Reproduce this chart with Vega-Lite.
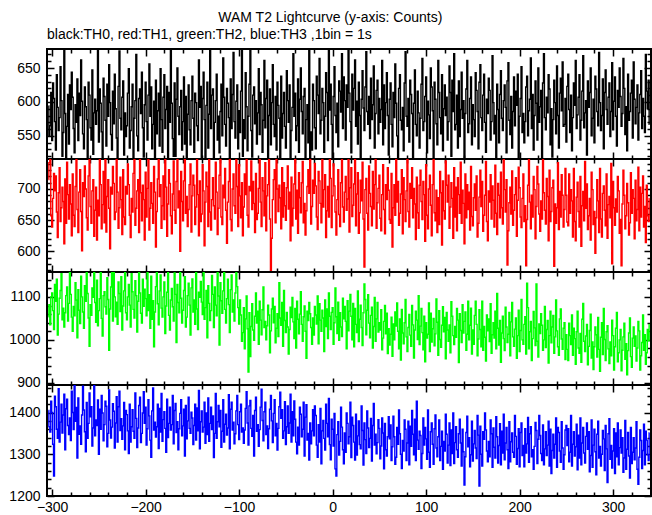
{
"$schema": "https://vega.github.io/schema/vega-lite/v6.json",
"background": "white",
"padding": {"left": 7, "top": 11, "right": 3, "bottom": 4},
"title": {"text": "WAM T2 Lightcurve (y-axis: Counts)", "anchor": "middle", "font": "Liberation Sans", "fontSize": 14, "fontWeight": "normal", "color": "black", "offset": 2},
"datasets": {"lc": [
{"t":-304,"a":594,"b":715,"c":1054,"d":1405},{"t":-303,"a":550,"b":742,"c":1082,"d":1366},{"t":-302,"a":565,"b":755,"c":1035,"d":1353},{"t":-301,"a":614,"b":657,"c":1100,"d":1427},{"t":-300,"a":543,"b":639,"c":1109,"d":1400},{"t":-299,"a":628,"b":685,"c":1068,"d":1324},{"t":-298,"a":605,"b":725,"c":1024,"d":1248},{"t":-297,"a":571,"b":697,"c":1129,"d":1439},{"t":-296,"a":529,"b":721,"c":1090,"d":1414},{"t":-295,"a":640,"b":663,"c":1141,"d":1360},
{"t":-294,"a":592,"b":622,"c":1011,"d":1338},{"t":-293,"a":558,"b":694,"c":1060,"d":1457},{"t":-292,"a":577,"b":734,"c":1097,"d":1329},{"t":-291,"a":652,"b":648,"c":1115,"d":1377},{"t":-290,"a":602,"b":670,"c":1154,"d":1420},{"t":-289,"a":520,"b":703,"c":1047,"d":1351},{"t":-288,"a":555,"b":680,"c":1074,"d":1394},{"t":-287,"a":676,"b":612,"c":1030,"d":1444},{"t":-286,"a":583,"b":716,"c":1063,"d":1311},{"t":-285,"a":502,"b":645,"c":1103,"d":1409},
{"t":-284,"a":564,"b":743,"c":1123,"d":1432},{"t":-283,"a":611,"b":691,"c":1044,"d":1369},{"t":-282,"a":538,"b":652,"c":1085,"d":1347},{"t":-281,"a":625,"b":707,"c":1171,"d":1387},{"t":-280,"a":589,"b":676,"c":1106,"d":1333},{"t":-279,"a":644,"b":625,"c":1053,"d":1451},{"t":-278,"a":607,"b":724,"c":1020,"d":1400},{"t":-277,"a":561,"b":658,"c":1078,"d":1359},{"t":-276,"a":525,"b":640,"c":1056,"d":1471},{"t":-275,"a":596,"b":704,"c":1133,"d":1379},
{"t":-274,"a":570,"b":758,"c":1093,"d":1412},{"t":-273,"a":634,"b":667,"c":1005,"d":1291},{"t":-272,"a":543,"b":630,"c":1117,"d":1435},{"t":-271,"a":613,"b":695,"c":1069,"d":1348},{"t":-270,"a":580,"b":731,"c":1038,"d":1368},{"t":-269,"a":662,"b":664,"c":1148,"d":1324},{"t":-268,"a":601,"b":601,"c":1100,"d":1394},{"t":-267,"a":553,"b":710,"c":1065,"d":1463},{"t":-266,"a":531,"b":688,"c":1027,"d":1406},{"t":-265,"a":622,"b":737,"c":1126,"d":1354},
{"t":-264,"a":593,"b":700,"c":1090,"d":1306},{"t":-263,"a":574,"b":654,"c":1163,"d":1424},{"t":-262,"a":507,"b":634,"c":1108,"d":1338},{"t":-261,"a":629,"b":721,"c":1051,"d":1374},{"t":-260,"a":610,"b":770,"c":985,"d":1447},{"t":-259,"a":562,"b":672,"c":1082,"d":1390},{"t":-258,"a":544,"b":645,"c":1057,"d":1414},{"t":-257,"a":647,"b":697,"c":1121,"d":1320},{"t":-256,"a":523,"b":715,"c":1099,"d":1363},{"t":-255,"a":584,"b":624,"c":1166,"d":1478},
{"t":-254,"a":604,"b":666,"c":1087,"d":1344},{"t":-253,"a":567,"b":703,"c":1041,"d":1382},{"t":-252,"a":587,"b":618,"c":1139,"d":1369},{"t":-251,"a":695,"b":682,"c":1033,"d":1430},{"t":-250,"a":541,"b":657,"c":1068,"d":1300},{"t":-249,"a":619,"b":748,"c":1096,"d":1408},{"t":-248,"a":598,"b":707,"c":1180,"d":1360},{"t":-247,"a":556,"b":636,"c":1050,"d":1441},{"t":-246,"a":516,"b":675,"c":1009,"d":1399},{"t":-245,"a":635,"b":728,"c":1103,"d":1332},
{"t":-244,"a":608,"b":646,"c":1112,"d":1371},{"t":-243,"a":573,"b":761,"c":1077,"d":1427},{"t":-242,"a":535,"b":631,"c":1060,"d":1415},{"t":-241,"a":626,"b":688,"c":1145,"d":1318},{"t":-240,"a":579,"b":715,"c":1094,"d":1350},{"t":-239,"a":655,"b":669,"c":976,"d":1454},{"t":-238,"a":599,"b":604,"c":1072,"d":1382},{"t":-237,"a":552,"b":703,"c":1123,"d":1339},{"t":-236,"a":529,"b":692,"c":1157,"d":1365},{"t":-235,"a":616,"b":736,"c":1044,"d":1421},
{"t":-234,"a":568,"b":709,"c":1174,"d":1403},{"t":-233,"a":641,"b":651,"c":1100,"d":1315},{"t":-232,"a":590,"b":663,"c":1054,"d":1375},{"t":-231,"a":547,"b":772,"c":1088,"d":1438},{"t":-230,"a":511,"b":695,"c":1036,"d":1329},{"t":-229,"a":623,"b":637,"c":1135,"d":1414},{"t":-228,"a":675,"b":670,"c":1108,"d":1451},{"t":-227,"a":576,"b":719,"c":1066,"d":1357},{"t":-226,"a":559,"b":683,"c":1147,"d":1385},{"t":-225,"a":607,"b":627,"c":1023,"d":1336},
{"t":-224,"a":631,"b":731,"c":1079,"d":1368},{"t":-223,"a":522,"b":655,"c":1114,"d":1424},{"t":-222,"a":584,"b":643,"c":1186,"d":1311},{"t":-221,"a":549,"b":704,"c":1063,"d":1405},{"t":-220,"a":565,"b":692,"c":1047,"d":1395},{"t":-219,"a":613,"b":740,"c":1100,"d":1356},{"t":-218,"a":649,"b":707,"c":1129,"d":1302},{"t":-217,"a":532,"b":658,"c":1081,"d":1420},{"t":-216,"a":558,"b":622,"c":1030,"d":1329},{"t":-215,"a":593,"b":685,"c":1154,"d":1366},
{"t":-214,"a":626,"b":663,"c":1112,"d":1407},{"t":-213,"a":511,"b":725,"c":1071,"d":1355},{"t":-212,"a":576,"b":763,"c":1051,"d":1338},{"t":-211,"a":602,"b":642,"c":1138,"d":1447},{"t":-210,"a":670,"b":669,"c":1103,"d":1386},{"t":-209,"a":550,"b":697,"c":1018,"d":1316},{"t":-208,"a":528,"b":715,"c":1090,"d":1363},{"t":-207,"a":605,"b":630,"c":1162,"d":1417},{"t":-206,"a":619,"b":749,"c":1109,"d":1437},{"t":-205,"a":583,"b":694,"c":1062,"d":1328},
{"t":-204,"a":644,"b":649,"c":1039,"d":1350},{"t":-203,"a":562,"b":706,"c":1141,"d":1399},{"t":-202,"a":519,"b":683,"c":1078,"d":1450},{"t":-201,"a":596,"b":618,"c":1118,"d":1374},{"t":-200,"a":629,"b":727,"c":1096,"d":1413},{"t":-199,"a":571,"b":655,"c":1056,"d":1322},{"t":-198,"a":544,"b":701,"c":1181,"d":1361},{"t":-197,"a":610,"b":779,"c":1068,"d":1431},{"t":-196,"a":656,"b":634,"c":1105,"d":1392},{"t":-195,"a":579,"b":669,"c":1027,"d":1334},
{"t":-194,"a":622,"b":710,"c":1148,"d":1293},{"t":-193,"a":531,"b":677,"c":1048,"d":1404},{"t":-192,"a":567,"b":645,"c":1091,"d":1459},{"t":-191,"a":601,"b":736,"c":984,"d":1358},{"t":-190,"a":499,"b":695,"c":1065,"d":1377},{"t":-189,"a":632,"b":607,"c":1124,"d":1341},{"t":-188,"a":553,"b":664,"c":1168,"d":1366},{"t":-187,"a":587,"b":716,"c":1084,"d":1420},{"t":-186,"a":613,"b":773,"c":1035,"d":1314},{"t":-185,"a":535,"b":688,"c":1114,"d":1410},
{"t":-184,"a":649,"b":707,"c":1151,"d":1353},{"t":-183,"a":574,"b":637,"c":1074,"d":1446},{"t":-182,"a":526,"b":673,"c":1053,"d":1331},{"t":-181,"a":607,"b":721,"c":1100,"d":1383},{"t":-180,"a":640,"b":651,"c":1135,"d":1402},{"t":-179,"a":561,"b":751,"c":1015,"d":1362},{"t":-178,"a":589,"b":703,"c":1079,"d":1305},{"t":-177,"a":623,"b":624,"c":1111,"d":1432},{"t":-176,"a":513,"b":676,"c":1189,"d":1340},{"t":-175,"a":614,"b":731,"c":1057,"d":1374},
{"t":-174,"a":570,"b":709,"c":1023,"d":1413},{"t":-173,"a":682,"b":657,"c":1093,"d":1358},{"t":-172,"a":598,"b":628,"c":1120,"d":1371},{"t":-171,"a":546,"b":692,"c":1077,"d":1441},{"t":-170,"a":520,"b":745,"c":1044,"d":1325},{"t":-169,"a":628,"b":666,"c":1156,"d":1405},{"t":-168,"a":520,"b":645,"c":1106,"d":1422},{"t":-167,"a":604,"b":712,"c":994,"d":1352},{"t":-166,"a":650,"b":764,"c":1129,"d":1378},{"t":-165,"a":579,"b":670,"c":1087,"d":1311},
{"t":-164,"a":552,"b":697,"c":1063,"d":1361},{"t":-163,"a":593,"b":600,"c":1169,"d":1398},{"t":-162,"a":617,"b":728,"c":1097,"d":1431},{"t":-161,"a":529,"b":680,"c":1039,"d":1344},{"t":-160,"a":571,"b":649,"c":1069,"d":1368},{"t":-159,"a":637,"b":713,"c":1115,"d":1408},{"t":-158,"a":538,"b":769,"c":1147,"d":1296},{"t":-157,"a":608,"b":661,"c":1030,"d":1417},{"t":-156,"a":504,"b":688,"c":1053,"d":1337},{"t":-155,"a":582,"b":640,"c":1103,"d":1380},
{"t":-154,"a":625,"b":667,"c":1132,"d":1437},{"t":-153,"a":559,"b":707,"c":1081,"d":1362},{"t":-152,"a":537,"b":740,"c":1011,"d":1350},{"t":-151,"a":602,"b":631,"c":1121,"d":1401},{"t":-150,"a":638,"b":689,"c":1142,"d":1387},{"t":-149,"a":576,"b":722,"c":1065,"d":1323},{"t":-148,"a":526,"b":706,"c":1093,"d":1369},{"t":-147,"a":613,"b":643,"c":1036,"d":1420},{"t":-146,"a":599,"b":671,"c":1163,"d":1334},{"t":-145,"a":565,"b":757,"c":1072,"d":1411},
{"t":-144,"a":543,"b":691,"c":1024,"d":1356},{"t":-143,"a":662,"b":625,"c":1111,"d":1453},{"t":-142,"a":592,"b":713,"c":1099,"d":1313},{"t":-141,"a":623,"b":648,"c":1136,"d":1378},{"t":-140,"a":510,"b":660,"c":1088,"d":1404},{"t":-139,"a":605,"b":739,"c":1059,"d":1353},{"t":-138,"a":644,"b":697,"c":1177,"d":1365},{"t":-137,"a":574,"b":609,"c":1048,"d":1425},{"t":-136,"a":518,"b":679,"c":1075,"d":1326},{"t":-135,"a":595,"b":727,"c":1115,"d":1399},
{"t":-134,"a":629,"b":704,"c":1005,"d":1347},{"t":-133,"a":532,"b":640,"c":1126,"d":1435},{"t":-132,"a":582,"b":766,"c":1085,"d":1331},{"t":-131,"a":694,"b":663,"c":1045,"d":1374},{"t":-130,"a":561,"b":634,"c":1068,"d":1413},{"t":-129,"a":610,"b":683,"c":1150,"d":1359},{"t":-128,"a":619,"b":718,"c":1106,"d":1392},{"t":-127,"a":517,"b":673,"c":1029,"d":1292},{"t":-126,"a":570,"b":652,"c":1123,"d":1350},{"t":-125,"a":602,"b":743,"c":1081,"d":1446},
{"t":-124,"a":641,"b":695,"c":1056,"d":1338},{"t":-123,"a":544,"b":627,"c":1159,"d":1378},{"t":-122,"a":579,"b":669,"c":1102,"d":1417},{"t":-121,"a":525,"b":722,"c":988,"d":1366},{"t":-120,"a":586,"b":773,"c":1133,"d":1405},{"t":-119,"a":626,"b":655,"c":1091,"d":1317},{"t":-118,"a":550,"b":643,"c":1062,"d":1355},{"t":-117,"a":665,"b":706,"c":1114,"d":1431},{"t":-116,"a":607,"b":686,"c":1192,"d":1329},{"t":-115,"a":567,"b":733,"c":1071,"d":1372},
{"t":-114,"a":535,"b":666,"c":1039,"d":1396},{"t":-113,"a":620,"b":613,"c":1096,"d":1346},{"t":-112,"a":598,"b":679,"c":1141,"d":1363},{"t":-111,"a":577,"b":712,"c":1082,"d":1443},{"t":-110,"a":502,"b":749,"c":1017,"d":1313},{"t":-109,"a":634,"b":651,"c":1117,"d":1408},{"t":-108,"a":561,"b":633,"c":1151,"d":1425},{"t":-107,"a":611,"b":700,"c":1065,"d":1358},{"t":-106,"a":673,"b":724,"c":1093,"d":1377},{"t":-105,"a":571,"b":673,"c":1044,"d":1325},
{"t":-104,"a":547,"b":661,"c":1109,"d":1349},{"t":-103,"a":601,"b":770,"c":1172,"d":1404},{"t":-102,"a":625,"b":704,"c":1124,"d":1441},{"t":-101,"a":531,"b":640,"c":1075,"d":1371},{"t":-100,"a":587,"b":739,"c":1037,"d":1335},{"t":-99,"a":555,"b":689,"c":1093,"d":1402},{"t":-98,"a":616,"b":654,"c":1058,"d":1420},{"t":-97,"a":680,"b":710,"c":997,"d":1353},{"t":-96,"a":520,"b":625,"c":1017,"d":1363},{"t":-95,"a":574,"b":671,"c":1075,"d":1326},
{"t":-94,"a":546,"b":724,"c":979,"d":1358},{"t":-93,"a":643,"b":691,"c":1049,"d":1410},{"t":-92,"a":593,"b":758,"c":1102,"d":1450},{"t":-91,"a":528,"b":658,"c":1026,"d":1375},{"t":-90,"a":579,"b":639,"c":925,"d":1322},{"t":-89,"a":626,"b":704,"c":1063,"d":1416},{"t":-88,"a":680,"b":697,"c":961,"d":1429},{"t":-87,"a":558,"b":745,"c":1031,"d":1362},{"t":-86,"a":519,"b":667,"c":1084,"d":1343},{"t":-85,"a":610,"b":712,"c":1023,"d":1393},
{"t":-84,"a":622,"b":677,"c":999,"d":1296},{"t":-83,"a":568,"b":630,"c":1055,"d":1405},{"t":-82,"a":602,"b":725,"c":1109,"d":1437},{"t":-81,"a":538,"b":651,"c":1039,"d":1355},{"t":-80,"a":584,"b":661,"c":1067,"d":1371},{"t":-79,"a":649,"b":701,"c":990,"d":1319},{"t":-78,"a":552,"b":761,"c":1090,"d":1359},{"t":-77,"a":614,"b":679,"c":1046,"d":1413},{"t":-76,"a":596,"b":640,"c":1012,"d":1456},{"t":-75,"a":526,"b":718,"c":1070,"d":1381},
{"t":-74,"a":573,"b":697,"c":1123,"d":1332},{"t":-73,"a":661,"b":657,"c":1029,"d":1402},{"t":-72,"a":562,"b":742,"c":1043,"d":1425},{"t":-71,"a":605,"b":633,"c":1000,"d":1347},{"t":-70,"a":632,"b":689,"c":1033,"d":1368},{"t":-69,"a":511,"b":707,"c":1081,"d":1314},{"t":-68,"a":580,"b":751,"c":1058,"d":1361},{"t":-67,"a":619,"b":652,"c":970,"d":1408},{"t":-66,"a":537,"b":565,"c":1021,"d":1441},{"t":-65,"a":599,"b":621,"c":1072,"d":1380},
{"t":-64,"a":655,"b":683,"c":1097,"d":1328},{"t":-63,"a":567,"b":715,"c":1040,"d":1398},{"t":-62,"a":549,"b":731,"c":1078,"d":1431},{"t":-61,"a":608,"b":646,"c":993,"d":1344},{"t":-60,"a":529,"b":776,"c":1027,"d":1374},{"t":-59,"a":629,"b":700,"c":1061,"d":1310},{"t":-58,"a":595,"b":664,"c":1008,"d":1362},{"t":-57,"a":576,"b":706,"c":1133,"d":1414},{"t":-56,"a":514,"b":686,"c":1051,"d":1449},{"t":-55,"a":638,"b":636,"c":1034,"d":1386},
{"t":-54,"a":547,"b":734,"c":1087,"d":1407},{"t":-53,"a":583,"b":655,"c":985,"d":1338},{"t":-52,"a":614,"b":710,"c":1115,"d":1356},{"t":-51,"a":564,"b":673,"c":1045,"d":1426},{"t":-50,"a":532,"b":650,"c":1017,"d":1323},{"t":-49,"a":646,"b":702,"c":1064,"d":1366},{"t":-48,"a":602,"b":737,"c":1030,"d":1416},{"t":-47,"a":570,"b":668,"c":967,"d":1350},{"t":-46,"a":625,"b":695,"c":1024,"d":1375},{"t":-45,"a":508,"b":617,"c":1076,"d":1444},
{"t":-44,"a":558,"b":719,"c":1052,"d":1329},{"t":-43,"a":592,"b":641,"c":1099,"d":1402},{"t":-42,"a":671,"b":669,"c":1042,"d":1344},{"t":-41,"a":579,"b":708,"c":1003,"d":1428},{"t":-40,"a":613,"b":750,"c":1073,"d":1384},{"t":-39,"a":543,"b":652,"c":981,"d":1329},{"t":-38,"a":565,"b":698,"c":1090,"d":1301},{"t":-37,"a":634,"b":629,"c":1048,"d":1365},{"t":-36,"a":526,"b":726,"c":1014,"d":1322},{"t":-35,"a":604,"b":686,"c":1060,"d":1413},
{"t":-34,"a":650,"b":662,"c":1112,"d":1396},{"t":-33,"a":586,"b":710,"c":1036,"d":1342},{"t":-32,"a":553,"b":744,"c":997,"d":1360},{"t":-31,"a":608,"b":646,"c":1054,"d":1425},{"t":-30,"a":620,"b":677,"c":1079,"d":1296},{"t":-29,"a":517,"b":626,"c":1020,"d":1389},{"t":-28,"a":574,"b":665,"c":957,"d":1419},{"t":-27,"a":596,"b":704,"c":1067,"d":1334},{"t":-26,"a":540,"b":731,"c":1045,"d":1350},{"t":-25,"a":690,"b":693,"c":1087,"d":1286},
{"t":-24,"a":518,"b":762,"c":1061,"d":1375},{"t":-23,"a":556,"b":644,"c":1029,"d":1325},{"t":-22,"a":529,"b":672,"c":990,"d":1356},{"t":-21,"a":626,"b":714,"c":1051,"d":1407},{"t":-20,"a":602,"b":693,"c":1011,"d":1344},{"t":-19,"a":562,"b":741,"c":1078,"d":1416},{"t":-18,"a":531,"b":705,"c":1058,"d":1393},{"t":-17,"a":638,"b":655,"c":1037,"d":1322},{"t":-16,"a":610,"b":635,"c":1102,"d":1293},{"t":-15,"a":583,"b":728,"c":991,"d":1371},
{"t":-14,"a":664,"b":713,"c":1084,"d":1329},{"t":-13,"a":553,"b":677,"c":1046,"d":1410},{"t":-12,"a":573,"b":646,"c":1020,"d":1277},{"t":-11,"a":620,"b":752,"c":1069,"d":1356},{"t":-10,"a":599,"b":671,"c":1051,"d":1381},{"t":-9,"a":526,"b":699,"c":973,"d":1338},{"t":-8,"a":579,"b":723,"c":1093,"d":1310},{"t":-7,"a":643,"b":622,"c":1031,"d":1420},{"t":-6,"a":614,"b":665,"c":1072,"d":1374},{"t":-5,"a":543,"b":704,"c":1003,"d":1342},
{"t":-4,"a":679,"b":655,"c":1109,"d":1434},{"t":-3,"a":588,"b":760,"c":1055,"d":1323},{"t":-2,"a":626,"b":717,"c":1024,"d":1287},{"t":-1,"a":567,"b":638,"c":1064,"d":1384},{"t":0,"a":517,"b":689,"c":1075,"d":1360},{"t":1,"a":608,"b":740,"c":990,"d":1320},{"t":2,"a":652,"b":705,"c":1040,"d":1398},{"t":3,"a":580,"b":663,"c":1121,"d":1265},{"t":4,"a":555,"b":626,"c":1054,"d":1248},{"t":5,"a":598,"b":683,"c":1015,"d":1347},
{"t":6,"a":534,"b":731,"c":1088,"d":1378},{"t":7,"a":631,"b":659,"c":999,"d":1298},{"t":8,"a":616,"b":640,"c":1063,"d":1331},{"t":9,"a":585,"b":710,"c":1030,"d":1413},{"t":10,"a":671,"b":753,"c":1008,"d":1365},{"t":11,"a":561,"b":671,"c":1097,"d":1311},{"t":12,"a":637,"b":647,"c":1049,"d":1277},{"t":13,"a":602,"b":695,"c":1078,"d":1351},{"t":14,"a":544,"b":720,"c":1043,"d":1305},{"t":15,"a":625,"b":666,"c":979,"d":1399},
{"t":16,"a":592,"b":684,"c":1091,"d":1374},{"t":17,"a":698,"b":768,"c":1021,"d":1325},{"t":18,"a":613,"b":631,"c":1067,"d":1342},{"t":19,"a":571,"b":702,"c":1106,"d":1425},{"t":20,"a":525,"b":734,"c":1055,"d":1292},{"t":21,"a":641,"b":656,"c":1000,"d":1389},{"t":22,"a":588,"b":674,"c":1085,"d":1369},{"t":23,"a":620,"b":708,"c":984,"d":1329},{"t":24,"a":662,"b":749,"c":1073,"d":1286},{"t":25,"a":564,"b":641,"c":1036,"d":1396},
{"t":26,"a":601,"b":692,"c":1017,"d":1298},{"t":27,"a":538,"b":726,"c":1114,"d":1344},{"t":28,"a":629,"b":629,"c":996,"d":1380},{"t":29,"a":580,"b":662,"c":1048,"d":1323},{"t":30,"a":517,"b":714,"c":1081,"d":1313},{"t":31,"a":604,"b":681,"c":1029,"d":1416},{"t":32,"a":646,"b":743,"c":987,"d":1357},{"t":33,"a":591,"b":652,"c":1063,"d":1274},{"t":34,"a":558,"b":575,"c":1130,"d":1375},{"t":35,"a":622,"b":699,"c":1094,"d":1335},
{"t":36,"a":674,"b":717,"c":1012,"d":1302},{"t":37,"a":586,"b":661,"c":1069,"d":1404},{"t":38,"a":567,"b":634,"c":1105,"d":1363},{"t":39,"a":608,"b":737,"c":1039,"d":1316},{"t":40,"a":546,"b":693,"c":1005,"d":1338},{"t":41,"a":635,"b":672,"c":1057,"d":1386},{"t":42,"a":574,"b":641,"c":1076,"d":1284},{"t":43,"a":596,"b":728,"c":981,"d":1369},{"t":44,"a":653,"b":668,"c":1031,"d":1422},{"t":45,"a":532,"b":707,"c":1099,"d":1322},
{"t":46,"a":583,"b":750,"c":997,"d":1348},{"t":47,"a":617,"b":637,"c":1049,"d":1301},{"t":48,"a":632,"b":678,"c":1087,"d":1328},{"t":49,"a":553,"b":701,"c":1018,"d":1383},{"t":50,"a":605,"b":722,"c":1040,"d":1362},{"t":51,"a":570,"b":653,"c":1023,"d":1289},{"t":52,"a":589,"b":633,"c":1070,"d":1320},{"t":53,"a":661,"b":691,"c":977,"d":1387},{"t":54,"a":537,"b":739,"c":1004,"d":1351},{"t":55,"a":625,"b":667,"c":1043,"d":1265},
{"t":56,"a":561,"b":628,"c":1080,"d":1374},{"t":57,"a":599,"b":707,"c":1014,"d":1311},{"t":58,"a":643,"b":683,"c":1062,"d":1296},{"t":59,"a":580,"b":734,"c":968,"d":1342},{"t":60,"a":522,"b":698,"c":1026,"d":1390},{"t":61,"a":604,"b":651,"c":988,"d":1337},{"t":62,"a":628,"b":645,"c":1013,"d":1370},{"t":63,"a":567,"b":725,"c":1053,"d":1285},{"t":64,"a":534,"b":607,"c":962,"d":1318},{"t":65,"a":614,"b":670,"c":1037,"d":1391},
{"t":66,"a":577,"b":707,"c":1000,"d":1342},{"t":67,"a":656,"b":658,"c":1065,"d":1276},{"t":68,"a":598,"b":749,"c":1032,"d":1293},{"t":69,"a":550,"b":679,"c":1086,"d":1364},{"t":70,"a":517,"b":712,"c":1020,"d":1324},{"t":71,"a":620,"b":642,"c":979,"d":1406},{"t":72,"a":640,"b":661,"c":1049,"d":1349},{"t":73,"a":573,"b":692,"c":953,"d":1300},{"t":74,"a":559,"b":731,"c":1071,"d":1266},{"t":75,"a":592,"b":628,"c":1016,"d":1333},
{"t":76,"a":528,"b":718,"c":991,"d":1308},{"t":77,"a":628,"b":683,"c":1040,"d":1382},{"t":78,"a":674,"b":648,"c":1094,"d":1360},{"t":79,"a":579,"b":697,"c":1007,"d":1285},{"t":80,"a":564,"b":754,"c":973,"d":1327},{"t":81,"a":605,"b":664,"c":1029,"d":1379},{"t":82,"a":541,"b":639,"c":1059,"d":1275},{"t":83,"a":632,"b":709,"c":1011,"d":1367},{"t":84,"a":611,"b":685,"c":985,"d":1319},{"t":85,"a":583,"b":734,"c":1080,"d":1405},
{"t":86,"a":516,"b":654,"c":1035,"d":1348},{"t":87,"a":598,"b":701,"c":958,"d":1299},{"t":88,"a":647,"b":676,"c":1023,"d":1384},{"t":89,"a":567,"b":619,"c":1067,"d":1285},{"t":90,"a":550,"b":719,"c":1046,"d":1427},{"t":91,"a":616,"b":662,"c":1001,"d":1334},{"t":92,"a":584,"b":637,"c":1103,"d":1312},{"t":93,"a":532,"b":706,"c":989,"d":1355},{"t":94,"a":576,"b":730,"c":1032,"d":1345},{"t":95,"a":626,"b":680,"c":1073,"d":1266},
{"t":96,"a":664,"b":651,"c":1017,"d":1302},{"t":97,"a":558,"b":712,"c":977,"d":1387},{"t":98,"a":571,"b":691,"c":1055,"d":1322},{"t":99,"a":608,"b":616,"c":949,"d":1364},{"t":100,"a":637,"b":739,"c":1040,"d":1337},{"t":101,"a":525,"b":658,"c":1004,"d":1288},{"t":102,"a":601,"b":636,"c":1013,"d":1406},{"t":103,"a":581,"b":700,"c":1086,"d":1305},{"t":104,"a":546,"b":722,"c":973,"d":1269},{"t":105,"a":650,"b":674,"c":1062,"d":1354},
{"t":106,"a":622,"b":625,"c":995,"d":1375},{"t":107,"a":587,"b":707,"c":1026,"d":1324},{"t":108,"a":507,"b":751,"c":1050,"d":1276},{"t":109,"a":629,"b":662,"c":986,"d":1361},{"t":110,"a":604,"b":649,"c":1014,"d":1394},{"t":111,"a":568,"b":698,"c":1095,"d":1315},{"t":112,"a":537,"b":630,"c":1041,"d":1294},{"t":113,"a":661,"b":686,"c":964,"d":1342},{"t":114,"a":614,"b":643,"c":1068,"d":1382},{"t":115,"a":577,"b":728,"c":1001,"d":1285},
{"t":116,"a":553,"b":694,"c":983,"d":1319},{"t":117,"a":640,"b":610,"c":1034,"d":1355},{"t":118,"a":528,"b":713,"c":1077,"d":1264},{"t":119,"a":590,"b":665,"c":1019,"d":1331},{"t":120,"a":625,"b":652,"c":1052,"d":1308},{"t":121,"a":580,"b":745,"c":956,"d":1396},{"t":122,"a":607,"b":706,"c":1064,"d":1348},{"t":123,"a":544,"b":679,"c":1023,"d":1279},{"t":124,"a":571,"b":722,"c":997,"d":1322},{"t":125,"a":653,"b":637,"c":1035,"d":1375},
{"t":126,"a":614,"b":671,"c":970,"d":1273},{"t":127,"a":520,"b":710,"c":1089,"d":1358},{"t":128,"a":632,"b":685,"c":1055,"d":1302},{"t":129,"a":586,"b":621,"c":1010,"d":1399},{"t":130,"a":671,"b":734,"c":989,"d":1278},{"t":131,"a":559,"b":655,"c":1031,"d":1328},{"t":132,"a":567,"b":703,"c":1006,"d":1366},{"t":133,"a":610,"b":633,"c":1073,"d":1311},{"t":134,"a":532,"b":718,"c":1046,"d":1293},{"t":135,"a":631,"b":691,"c":947,"d":1349},
{"t":136,"a":549,"b":661,"c":1061,"d":1384},{"t":137,"a":589,"b":743,"c":1022,"d":1327},{"t":138,"a":644,"b":645,"c":994,"d":1272},{"t":139,"a":576,"b":698,"c":1082,"d":1360},{"t":140,"a":602,"b":677,"c":1016,"d":1306},{"t":141,"a":502,"b":612,"c":1043,"d":1226},{"t":142,"a":583,"b":724,"c":1065,"d":1294},{"t":143,"a":619,"b":654,"c":976,"d":1352},{"t":144,"a":661,"b":707,"c":1013,"d":1391},{"t":145,"a":555,"b":667,"c":1090,"d":1318},
{"t":146,"a":568,"b":695,"c":1000,"d":1340},{"t":147,"a":605,"b":634,"c":1034,"d":1270},{"t":148,"a":637,"b":736,"c":1074,"d":1299},{"t":149,"a":537,"b":656,"c":967,"d":1379},{"t":150,"a":596,"b":641,"c":1023,"d":1284},{"t":151,"a":574,"b":686,"c":990,"d":1325},{"t":152,"a":549,"b":708,"c":1057,"d":1357},{"t":153,"a":643,"b":666,"c":1090,"d":1315},{"t":154,"a":617,"b":721,"c":1036,"d":1290},{"t":155,"a":586,"b":623,"c":963,"d":1393},
{"t":156,"a":531,"b":645,"c":1002,"d":1346},{"t":157,"a":629,"b":687,"c":1070,"d":1224},{"t":158,"a":655,"b":730,"c":1024,"d":1367},{"t":159,"a":577,"b":672,"c":984,"d":1300},{"t":160,"a":558,"b":712,"c":1090,"d":1272},{"t":161,"a":610,"b":632,"c":976,"d":1354},{"t":162,"a":641,"b":658,"c":1031,"d":1336},{"t":163,"a":570,"b":690,"c":1006,"d":1399},{"t":164,"a":526,"b":744,"c":951,"d":1358},{"t":165,"a":604,"b":648,"c":1058,"d":1308},
{"t":166,"a":583,"b":617,"c":1021,"d":1282},{"t":167,"a":635,"b":697,"c":1049,"d":1331},{"t":168,"a":617,"b":679,"c":996,"d":1294},{"t":169,"a":544,"b":723,"c":1084,"d":1382},{"t":170,"a":571,"b":652,"c":969,"d":1349},{"t":171,"a":668,"b":705,"c":1012,"d":1269},{"t":172,"a":599,"b":682,"c":1040,"d":1363},{"t":173,"a":553,"b":639,"c":1004,"d":1317},{"t":174,"a":580,"b":738,"c":1067,"d":1291},{"t":175,"a":507,"b":661,"c":979,"d":1390},
{"t":176,"a":626,"b":627,"c":1108,"d":1342},{"t":177,"a":589,"b":709,"c":1027,"d":1279},{"t":178,"a":540,"b":690,"c":988,"d":1321},{"t":179,"a":611,"b":654,"c":1045,"d":1373},{"t":180,"a":646,"b":727,"c":948,"d":1275},{"t":181,"a":576,"b":670,"c":1016,"d":1355},{"t":182,"a":558,"b":644,"c":1055,"d":1303},{"t":183,"a":602,"b":756,"c":1003,"d":1396},{"t":184,"a":625,"b":699,"c":975,"d":1287},{"t":185,"a":592,"b":663,"c":1076,"d":1327},
{"t":186,"a":525,"b":715,"c":1030,"d":1364},{"t":187,"a":631,"b":578,"c":994,"d":1311},{"t":188,"a":658,"b":633,"c":1013,"d":1266},{"t":189,"a":573,"b":678,"c":1064,"d":1378},{"t":190,"a":552,"b":703,"c":963,"d":1282},{"t":191,"a":608,"b":660,"c":1042,"d":1330},{"t":192,"a":532,"b":729,"c":1087,"d":1351},{"t":193,"a":586,"b":642,"c":1007,"d":1305},{"t":194,"a":637,"b":666,"c":985,"d":1293},{"t":195,"a":565,"b":691,"c":1025,"d":1393},
{"t":196,"a":616,"b":718,"c":1051,"d":1343},{"t":197,"a":595,"b":624,"c":957,"d":1276},{"t":198,"a":641,"b":682,"c":1010,"d":1314},{"t":199,"a":514,"b":735,"c":1069,"d":1361},{"t":200,"a":579,"b":702,"c":973,"d":1270},{"t":201,"a":605,"b":655,"c":1022,"d":1352},{"t":202,"a":652,"b":638,"c":1094,"d":1375},{"t":203,"a":555,"b":685,"c":1000,"d":1297},{"t":204,"a":583,"b":724,"c":990,"d":1321},{"t":205,"a":540,"b":648,"c":1036,"d":1270},
{"t":206,"a":571,"b":673,"c":1054,"d":1361},{"t":207,"a":622,"b":577,"c":967,"d":1303},{"t":208,"a":638,"b":651,"c":1132,"d":1325},{"t":209,"a":550,"b":706,"c":1075,"d":1388},{"t":210,"a":587,"b":771,"c":979,"d":1281},{"t":211,"a":604,"b":679,"c":1019,"d":1349},{"t":212,"a":665,"b":636,"c":1043,"d":1366},{"t":213,"a":561,"b":690,"c":952,"d":1294},{"t":214,"a":611,"b":655,"c":1003,"d":1311},{"t":215,"a":529,"b":720,"c":1066,"d":1264},
{"t":216,"a":580,"b":699,"c":1028,"d":1319},{"t":217,"a":631,"b":620,"c":987,"d":1376},{"t":218,"a":598,"b":672,"c":1130,"d":1357},{"t":219,"a":544,"b":736,"c":997,"d":1278},{"t":220,"a":650,"b":708,"c":960,"d":1336},{"t":221,"a":570,"b":660,"c":1037,"d":1393},{"t":222,"a":593,"b":632,"c":1015,"d":1345},{"t":223,"a":617,"b":681,"c":1061,"d":1302},{"t":224,"a":508,"b":652,"c":1034,"d":1285},{"t":225,"a":628,"b":748,"c":976,"d":1370},
{"t":226,"a":671,"b":694,"c":1000,"d":1275},{"t":227,"a":577,"b":666,"c":1078,"d":1313},{"t":228,"a":559,"b":644,"c":982,"d":1354},{"t":229,"a":607,"b":717,"c":1024,"d":1297},{"t":230,"a":584,"b":688,"c":1045,"d":1322},{"t":231,"a":640,"b":617,"c":946,"d":1379},{"t":232,"a":619,"b":730,"c":1010,"d":1272},{"t":233,"a":537,"b":648,"c":1067,"d":1360},{"t":234,"a":590,"b":664,"c":993,"d":1254},{"t":235,"a":519,"b":702,"c":1030,"d":1309},
{"t":236,"a":574,"b":714,"c":1057,"d":1348},{"t":237,"a":632,"b":576,"c":969,"d":1291},{"t":238,"a":599,"b":676,"c":1007,"d":1324},{"t":239,"a":553,"b":645,"c":1093,"d":1387},{"t":240,"a":653,"b":670,"c":1021,"d":1269},{"t":241,"a":580,"b":742,"c":984,"d":1364},{"t":242,"a":532,"b":635,"c":964,"d":1352},{"t":243,"a":613,"b":696,"c":1049,"d":1308},{"t":244,"a":635,"b":655,"c":1072,"d":1281},{"t":245,"a":587,"b":723,"c":1002,"d":1378},
{"t":246,"a":659,"b":690,"c":978,"d":1315},{"t":247,"a":564,"b":639,"c":1027,"d":1264},{"t":248,"a":567,"b":667,"c":1040,"d":1299},{"t":249,"a":605,"b":733,"c":954,"d":1358},{"t":250,"a":541,"b":690,"c":1012,"d":1369},{"t":251,"a":623,"b":647,"c":978,"d":1321},{"t":252,"a":641,"b":641,"c":952,"d":1361},{"t":253,"a":589,"b":724,"c":1039,"d":1282},{"t":254,"a":555,"b":661,"c":1010,"d":1305},{"t":255,"a":610,"b":699,"c":989,"d":1393},
{"t":256,"a":528,"b":681,"c":1058,"d":1272},{"t":257,"a":577,"b":623,"c":964,"d":1324},{"t":258,"a":628,"b":733,"c":1027,"d":1354},{"t":259,"a":595,"b":648,"c":1003,"d":1296},{"t":260,"a":661,"b":617,"c":943,"d":1318},{"t":261,"a":561,"b":687,"c":1019,"d":1372},{"t":262,"a":581,"b":711,"c":1067,"d":1263},{"t":263,"a":607,"b":664,"c":981,"d":1346},{"t":264,"a":640,"b":639,"c":969,"d":1291},{"t":265,"a":544,"b":720,"c":1015,"d":1387},
{"t":266,"a":573,"b":608,"c":948,"d":1275},{"t":267,"a":616,"b":673,"c":1048,"d":1327},{"t":268,"a":668,"b":696,"c":1085,"d":1364},{"t":269,"a":562,"b":649,"c":997,"d":1303},{"t":270,"a":584,"b":744,"c":973,"d":1279},{"t":271,"a":602,"b":669,"c":1009,"d":1343},{"t":272,"a":522,"b":708,"c":1036,"d":1375},{"t":273,"a":631,"b":635,"c":942,"d":1312},{"t":274,"a":592,"b":657,"c":985,"d":1354},{"t":275,"a":614,"b":685,"c":1022,"d":1258},
{"t":276,"a":650,"b":618,"c":1060,"d":1297},{"t":277,"a":550,"b":727,"c":958,"d":1382},{"t":278,"a":576,"b":699,"c":995,"d":1269},{"t":279,"a":604,"b":643,"c":931,"d":1322},{"t":280,"a":540,"b":664,"c":984,"d":1360},{"t":281,"a":638,"b":597,"c":1030,"d":1306},{"t":282,"a":619,"b":654,"c":1012,"d":1251},{"t":283,"a":586,"b":715,"c":960,"d":1348},{"t":284,"a":565,"b":681,"c":1052,"d":1379},{"t":285,"a":673,"b":630,"c":978,"d":1291},
{"t":286,"a":599,"b":733,"c":927,"d":1319},{"t":287,"a":558,"b":652,"c":1006,"d":1272},{"t":288,"a":580,"b":623,"c":1040,"d":1300},{"t":289,"a":634,"b":693,"c":966,"d":1357},{"t":290,"a":531,"b":705,"c":1073,"d":1337},{"t":291,"a":614,"b":666,"c":1001,"d":1261},{"t":292,"a":647,"b":641,"c":952,"d":1369},{"t":293,"a":589,"b":724,"c":1019,"d":1313},{"t":294,"a":567,"b":621,"c":1033,"d":1232},{"t":295,"a":607,"b":675,"c":979,"d":1349},
{"t":296,"a":628,"b":688,"c":945,"d":1385},{"t":297,"a":549,"b":654,"c":995,"d":1288},{"t":298,"a":586,"b":741,"c":963,"d":1321},{"t":299,"a":658,"b":580,"c":1046,"d":1267},{"t":300,"a":559,"b":712,"c":1010,"d":1308},{"t":301,"a":601,"b":670,"c":930,"d":1361},{"t":302,"a":637,"b":642,"c":984,"d":1254},{"t":303,"a":579,"b":684,"c":1027,"d":1351},{"t":304,"a":535,"b":663,"c":1064,"d":1294},{"t":305,"a":617,"b":720,"c":949,"d":1375},
{"t":306,"a":592,"b":697,"c":970,"d":1275},{"t":307,"a":650,"b":629,"c":1000,"d":1316},{"t":308,"a":608,"b":651,"c":1024,"d":1358},{"t":309,"a":564,"b":577,"c":928,"d":1303},{"t":310,"a":583,"b":676,"c":976,"d":1340},{"t":311,"a":664,"b":730,"c":1007,"d":1257},{"t":312,"a":620,"b":690,"c":1039,"d":1291},{"t":313,"a":552,"b":636,"c":955,"d":1381},{"t":314,"a":593,"b":657,"c":991,"d":1264},{"t":315,"a":528,"b":709,"c":919,"d":1312},
{"t":316,"a":641,"b":678,"c":975,"d":1352},{"t":317,"a":573,"b":626,"c":1016,"d":1296},{"t":318,"a":586,"b":646,"c":1051,"d":1243},{"t":319,"a":613,"b":726,"c":961,"d":1364},{"t":320,"a":632,"b":661,"c":936,"d":1278},{"t":321,"a":547,"b":699,"c":1004,"d":1305},{"t":322,"a":659,"b":685,"c":1030,"d":1340},{"t":323,"a":604,"b":620,"c":985,"d":1287},{"t":324,"a":568,"b":714,"c":1009,"d":1315},{"t":325,"a":592,"b":649,"c":951,"d":1378},
{"t":326,"a":625,"b":667,"c":981,"d":1264},{"t":327,"a":544,"b":735,"c":1043,"d":1228},{"t":328,"a":584,"b":633,"c":1021,"d":1293},{"t":329,"a":611,"b":703,"c":930,"d":1358},{"t":330,"a":646,"b":655,"c":963,"d":1333},{"t":331,"a":561,"b":693,"c":994,"d":1266},{"t":332,"a":605,"b":721,"c":1058,"d":1309},{"t":333,"a":579,"b":639,"c":976,"d":1372},{"t":334,"a":555,"b":672,"c":1012,"d":1275},{"t":335,"a":670,"b":614,"c":943,"d":1355},
{"t":336,"a":616,"b":706,"c":970,"d":1334},{"t":337,"a":590,"b":657,"c":1024,"d":1299},{"t":338,"a":632,"b":648,"c":998,"d":1285},{"t":339,"a":567,"b":685,"c":1036,"d":1351}
]},
"data": {"name": "lc"},
"spacing": 0,
"bounds": "flush",
"vconcat": [
{
 "width": 604, "height": 110,
 "title": {"text": "black:TH0, red:TH1, green:TH2, blue:TH3 ,1bin = 1s", "anchor": "start", "frame": "group", "font": "Liberation Sans", "fontSize": 14, "fontWeight": "normal", "color": "black", "offset": 5},
 "layer": [
  {"mark": {"type": "line", "color": "#000000", "strokeWidth": 1.4, "interpolate": "step", "clip": true},
   "encoding": {
    "x": {"field": "t", "type": "quantitative", "scale": {"domain": [-305.5, 340.5], "nice": false, "zero": false},
          "axis": {"orient": "bottom", "title": null, "labels": false, "values": [-300,-280,-260,-240,-220,-200,-180,-160,-140,-120,-100,-80,-60,-40,-20,0,20,40,60,80,100,120,140,160,180,200,220,240,260,280,300,320,340], "tickSize": {"condition": {"test": "datum.value % 100 === 0", "value": -7}, "value": -4}}},
    "y": {"field": "a", "type": "quantitative", "scale": {"domain": [516, 678], "nice": false, "zero": false},
          "axis": {"orient": "left", "title": null, "format": "d", "values": [520,530,540,550,560,570,580,590,600,610,620,630,640,650,660,670], "labelExpr": "datum.value % 50 === 0 ? datum.label : ''", "tickSize": {"condition": {"test": "datum.value % 50 === 0", "value": -7}, "value": -4}}}
   }},
  {"mark": {"type": "line", "strokeOpacity": 0, "clip": true},
   "encoding": {
    "x": {"field": "t", "type": "quantitative", "scale": {"domain": [-305.5, 340.5], "nice": false, "zero": false},
          "axis": {"orient": "top", "title": null, "labels": false, "values": [-300,-280,-260,-240,-220,-200,-180,-160,-140,-120,-100,-80,-60,-40,-20,0,20,40,60,80,100,120,140,160,180,200,220,240,260,280,300,320,340], "tickSize": {"condition": {"test": "datum.value % 100 === 0", "value": -7}, "value": -4}}},
    "y": {"field": "a", "type": "quantitative", "scale": {"domain": [516, 678], "nice": false, "zero": false},
          "axis": {"orient": "right", "title": null, "labels": false, "values": [520,530,540,550,560,570,580,590,600,610,620,630,640,650,660,670], "tickSize": {"condition": {"test": "datum.value % 50 === 0", "value": -7}, "value": -4}}}
   }}
 ],
 "resolve": {"axis": {"x": "independent", "y": "independent"}}
},
{
 "width": 604, "height": 113,
 "layer": [
  {"mark": {"type": "line", "color": "#ff0000", "strokeWidth": 1.4, "interpolate": "step", "clip": true},
   "encoding": {
    "x": {"field": "t", "type": "quantitative", "scale": {"domain": [-305.5, 340.5], "nice": false, "zero": false},
          "axis": {"orient": "bottom", "title": null, "labels": false, "values": [-300,-280,-260,-240,-220,-200,-180,-160,-140,-120,-100,-80,-60,-40,-20,0,20,40,60,80,100,120,140,160,180,200,220,240,260,280,300,320,340], "tickSize": {"condition": {"test": "datum.value % 100 === 0", "value": -7}, "value": -4}}},
    "y": {"field": "b", "type": "quantitative", "scale": {"domain": [567, 748], "nice": false, "zero": false},
          "axis": {"orient": "left", "title": null, "format": "d", "values": [570,580,590,600,610,620,630,640,650,660,670,680,690,700,710,720,730,740], "labelExpr": "datum.value % 50 === 0 ? datum.label : ''", "tickSize": {"condition": {"test": "datum.value % 50 === 0", "value": -7}, "value": -4}}}
   }},
  {"mark": {"type": "line", "strokeOpacity": 0, "clip": true},
   "encoding": {
    "x": {"field": "t", "type": "quantitative", "scale": {"domain": [-305.5, 340.5], "nice": false, "zero": false},
          "axis": {"orient": "top", "title": null, "labels": false, "values": [-300,-280,-260,-240,-220,-200,-180,-160,-140,-120,-100,-80,-60,-40,-20,0,20,40,60,80,100,120,140,160,180,200,220,240,260,280,300,320,340], "tickSize": {"condition": {"test": "datum.value % 100 === 0", "value": -7}, "value": -4}}},
    "y": {"field": "b", "type": "quantitative", "scale": {"domain": [567, 748], "nice": false, "zero": false},
          "axis": {"orient": "right", "title": null, "labels": false, "values": [570,580,590,600,610,620,630,640,650,660,670,680,690,700,710,720,730,740], "tickSize": {"condition": {"test": "datum.value % 50 === 0", "value": -7}, "value": -4}}}
   }}
 ],
 "resolve": {"axis": {"x": "independent", "y": "independent"}}
},
{
 "width": 604, "height": 113,
 "layer": [
  {"mark": {"type": "line", "color": "#00ff00", "strokeWidth": 1.4, "interpolate": "step", "clip": true},
   "encoding": {
    "x": {"field": "t", "type": "quantitative", "scale": {"domain": [-305.5, 340.5], "nice": false, "zero": false},
          "axis": {"orient": "bottom", "title": null, "labels": false, "values": [-300,-280,-260,-240,-220,-200,-180,-160,-140,-120,-100,-80,-60,-40,-20,0,20,40,60,80,100,120,140,160,180,200,220,240,260,280,300,320,340], "tickSize": {"condition": {"test": "datum.value % 100 === 0", "value": -7}, "value": -4}}},
    "y": {"field": "c", "type": "quantitative", "scale": {"domain": [895, 1158], "nice": false, "zero": false},
          "axis": {"orient": "left", "title": null, "format": "d", "values": [900,920,940,960,980,1000,1020,1040,1060,1080,1100,1120,1140], "labelExpr": "datum.value % 100 === 0 ? datum.label : ''", "tickSize": {"condition": {"test": "datum.value % 100 === 0", "value": -7}, "value": -4}}}
   }},
  {"mark": {"type": "line", "strokeOpacity": 0, "clip": true},
   "encoding": {
    "x": {"field": "t", "type": "quantitative", "scale": {"domain": [-305.5, 340.5], "nice": false, "zero": false},
          "axis": {"orient": "top", "title": null, "labels": false, "values": [-300,-280,-260,-240,-220,-200,-180,-160,-140,-120,-100,-80,-60,-40,-20,0,20,40,60,80,100,120,140,160,180,200,220,240,260,280,300,320,340], "tickSize": {"condition": {"test": "datum.value % 100 === 0", "value": -7}, "value": -4}}},
    "y": {"field": "c", "type": "quantitative", "scale": {"domain": [895, 1158], "nice": false, "zero": false},
          "axis": {"orient": "right", "title": null, "labels": false, "values": [900,920,940,960,980,1000,1020,1040,1060,1080,1100,1120,1140], "tickSize": {"condition": {"test": "datum.value % 100 === 0", "value": -7}, "value": -4}}}
   }}
 ],
 "resolve": {"axis": {"x": "independent", "y": "independent"}}
},
{
 "width": 604, "height": 111,
 "layer": [
  {"mark": {"type": "line", "color": "#0000ff", "strokeWidth": 1.4, "interpolate": "step", "clip": true},
   "encoding": {
    "x": {"field": "t", "type": "quantitative", "scale": {"domain": [-305.5, 340.5], "nice": false, "zero": false},
          "axis": {"orient": "bottom", "title": null, "values": [-300,-280,-260,-240,-220,-200,-180,-160,-140,-120,-100,-80,-60,-40,-20,0,20,40,60,80,100,120,140,160,180,200,220,240,260,280,300,320,340], "labelExpr": "datum.value % 100 === 0 ? datum.label : ''", "tickSize": {"condition": {"test": "datum.value % 100 === 0", "value": -7}, "value": -4}}},
    "y": {"field": "d", "type": "quantitative", "scale": {"domain": [1200, 1466], "nice": false, "zero": false},
          "axis": {"orient": "left", "title": null, "format": "d", "values": [1200,1220,1240,1260,1280,1300,1320,1340,1360,1380,1400,1420,1440,1460], "labelExpr": "datum.value % 100 === 0 ? datum.label : ''", "tickSize": {"condition": {"test": "datum.value % 100 === 0", "value": -7}, "value": -4}}}
   }},
  {"mark": {"type": "line", "strokeOpacity": 0, "clip": true},
   "encoding": {
    "x": {"field": "t", "type": "quantitative", "scale": {"domain": [-305.5, 340.5], "nice": false, "zero": false},
          "axis": {"orient": "top", "title": null, "labels": false, "values": [-300,-280,-260,-240,-220,-200,-180,-160,-140,-120,-100,-80,-60,-40,-20,0,20,40,60,80,100,120,140,160,180,200,220,240,260,280,300,320,340], "tickSize": {"condition": {"test": "datum.value % 100 === 0", "value": -7}, "value": -4}}},
    "y": {"field": "d", "type": "quantitative", "scale": {"domain": [1200, 1466], "nice": false, "zero": false},
          "axis": {"orient": "right", "title": null, "labels": false, "values": [1200,1220,1240,1260,1280,1300,1320,1340,1360,1380,1400,1420,1440,1460], "tickSize": {"condition": {"test": "datum.value % 100 === 0", "value": -7}, "value": -4}}}
   }}
 ],
 "resolve": {"axis": {"x": "independent", "y": "independent"}}
}
],
"config": {
 "view": {"stroke": "#000000", "strokeWidth": 2},
 "axis": {"domain": false, "grid": false, "tickColor": "#000000", "tickWidth": 1.5, "labelFont": "Liberation Sans", "labelFontSize": 14, "labelColor": "#000000", "labelOverlap": false, "labelFlush": false, "labelPadding": 14},
 "axisY": {"labelPadding": 14},
 "axisX": {"labelPadding": 11}
}
}
